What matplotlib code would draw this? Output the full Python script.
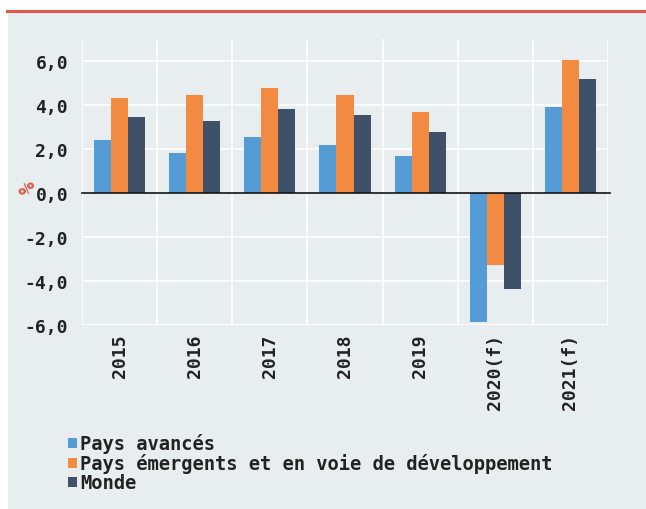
import numpy as np
from matplotlib import pyplot as plt
from matplotlib.patches import Rectangle
from matplotlib.lines import Line2D

# data
years = ["2015", "2016", "2017", "2018", "2019", "2020(f)", "2021(f)"]
avances = [2.4, 1.8, 2.55, 2.2, 1.7, -5.85, 3.9]
emergents = [4.3, 4.45, 4.77, 4.45, 3.7, -3.25, 6.05]
monde = [3.45, 3.27, 3.82, 3.55, 2.77, -4.37, 5.18]
series_names = ["Pays avancés", "Pays émergents et en voie de développement", "Monde"]
yticks = [-6, -4, -2, 0, 2, 4, 6]

colors = ["#559bd6", "#f28a42", "#3f5069"]
bg = "#e8edf0"
txt = "#222222"
font = ["DejaVu Sans Mono"]

fig = plt.figure(figsize=(6.46, 5.10), dpi=100)
fig.patch.set_facecolor("white")
# grey panel and red top rule
fig.patches.append(Rectangle((8/646, 0), 1, 1 - 13/510, transform=fig.transFigure,
                             facecolor=bg, edgecolor="none", zorder=-10))
fig.lines.append(Line2D([7/646, 1], [1 - 11.5/510, 1 - 11.5/510], transform=fig.transFigure,
                        color="#e05a4a", linewidth=2.2, zorder=-5))

ax = fig.add_axes([82/646, 1 - 326/510, (608 - 82)/646, (326 - 40)/510])
ax.set_facecolor(bg)
x = np.arange(len(years))
w = 0.227
for i, (vals, c, name) in enumerate(zip([avances, emergents, monde], colors, series_names)):
    ax.bar(x + (i - 1) * w, vals, width=w, color=c, label=name, zorder=3)

ax.set_xlim(-0.5, len(years) - 0.5)
ax.set_ylim(-6, 7)
ax.set_yticks(yticks)
ax.set_yticklabels([f"{v:.1f}".replace(".", ",") for v in yticks],
                   fontfamily=font, fontweight="bold", fontsize=13, color=txt)
ax.set_xticks(x)
ax.set_xticklabels(years, rotation=90, fontfamily=font, fontweight="bold",
                   fontsize=13, color=txt, va="top")
ax.tick_params(axis="y", length=0, pad=10)
ax.tick_params(axis="x", length=0, pad=6)
ax.set_xticks(np.arange(len(years) + 1) - 0.5, minor=True)
ax.tick_params(which="minor", length=0)
ax.grid(axis="y", color="white", linewidth=1.2, zorder=0)
ax.grid(axis="x", which="minor", color="white", linewidth=1.2, zorder=0)
ax.set_axisbelow(True)
for s in ax.spines.values():
    s.set_visible(False)
ax.axhline(0, color="#111111", linewidth=1.2, zorder=4, xmax=1.004, clip_on=False)
# "%" unit label next to the 0,0 tick
ax.text(-0.102, 0.483, "%", transform=ax.transAxes, rotation=90, ha="center", va="center",
        color="#e05a4a", fontfamily=font, fontweight="bold", fontsize=15)

leg = fig.legend(loc="upper left", bbox_to_anchor=(59/646, 1 - 425/510), frameon=False,
                 handlelength=0.45, handleheight=0.45, handletextpad=0.18,
                 labelspacing=0.0, borderpad=0,
                 prop={"family": font, "weight": "bold", "size": 13.5})
for t in leg.get_texts():
    t.set_color(txt)

fig.savefig("out.png", dpi=100, facecolor=fig.get_facecolor())
